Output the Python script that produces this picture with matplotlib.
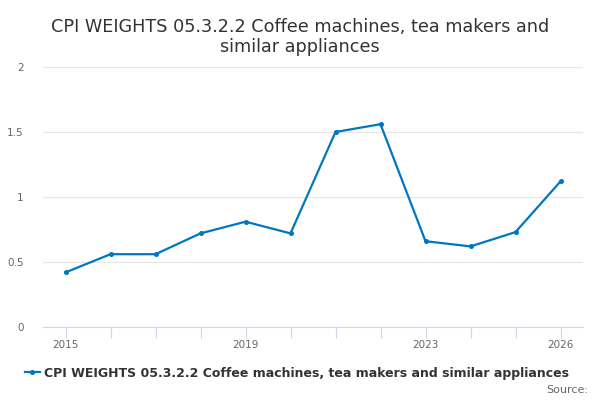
import matplotlib
matplotlib.use("Agg")
import matplotlib.pyplot as plt
from matplotlib.lines import Line2D

years = [2015, 2016, 2017, 2018, 2019, 2020, 2021, 2022, 2023, 2024, 2025, 2026]
values = [0.42, 0.56, 0.56, 0.72, 0.81, 0.72, 1.50, 1.56, 0.66, 0.62, 0.73, 1.12]
yticks = [0, 0.5, 1, 1.5, 2]
ytick_labels = ["0", "0.5", "1", "1.5", "2"]
xlabel_years = [2015, 2019, 2023, 2026]
series_name = "CPI WEIGHTS 05.3.2.2 Coffee machines, tea makers and similar appliances"
title = "CPI WEIGHTS 05.3.2.2 Coffee machines, tea makers and\nsimilar appliances"

color = "#0077c0"
fig = plt.figure(figsize=(6, 4), dpi=100)
ax = fig.add_axes([43/600, 1-327/400, 540/600, 260/400])
ax.plot(years, values, color=color, lw=1.6, marker="o", ms=2.6)
ax.set_xlim(2014.5, 2026.5)
ax.set_ylim(0, 2)
ax.set_yticks(yticks)
ax.set_yticklabels(ytick_labels)
ax.set_xticks(years)
ax.set_xticklabels([str(y) if y in xlabel_years else "" for y in years])
for s in ["top", "right", "left"]:
    ax.spines[s].set_visible(False)
ax.spines["bottom"].set_color("#ccd6eb")
ax.grid(axis="y", color="#e6e6e6", lw=0.8)
ax.set_axisbelow(True)
ax.tick_params(axis="y", length=0, labelsize=7.5, labelcolor="#666666", pad=14)
ax.tick_params(axis="x", length=8, color="#ccd6eb", labelsize=7.5, labelcolor="#666666", pad=1)
fig.text(0.5, 0.955, title, ha="center", va="top", fontsize=12.7, color="#333333", linespacing=1.15)
handle = Line2D([0], [0], color=color, lw=1.6, marker="o", ms=2.6)
fig.legend([handle], [series_name], loc="center", bbox_to_anchor=(0.495, 1-373/400), frameon=False,
           prop={"weight": "bold", "size": 9}, handlelength=1.2, handletextpad=0.4, labelcolor="#333333")
fig.text(0.98, 1-390/400, "Source:", ha="right", va="center", fontsize=8, color="#666666")
fig.savefig("out.png")
